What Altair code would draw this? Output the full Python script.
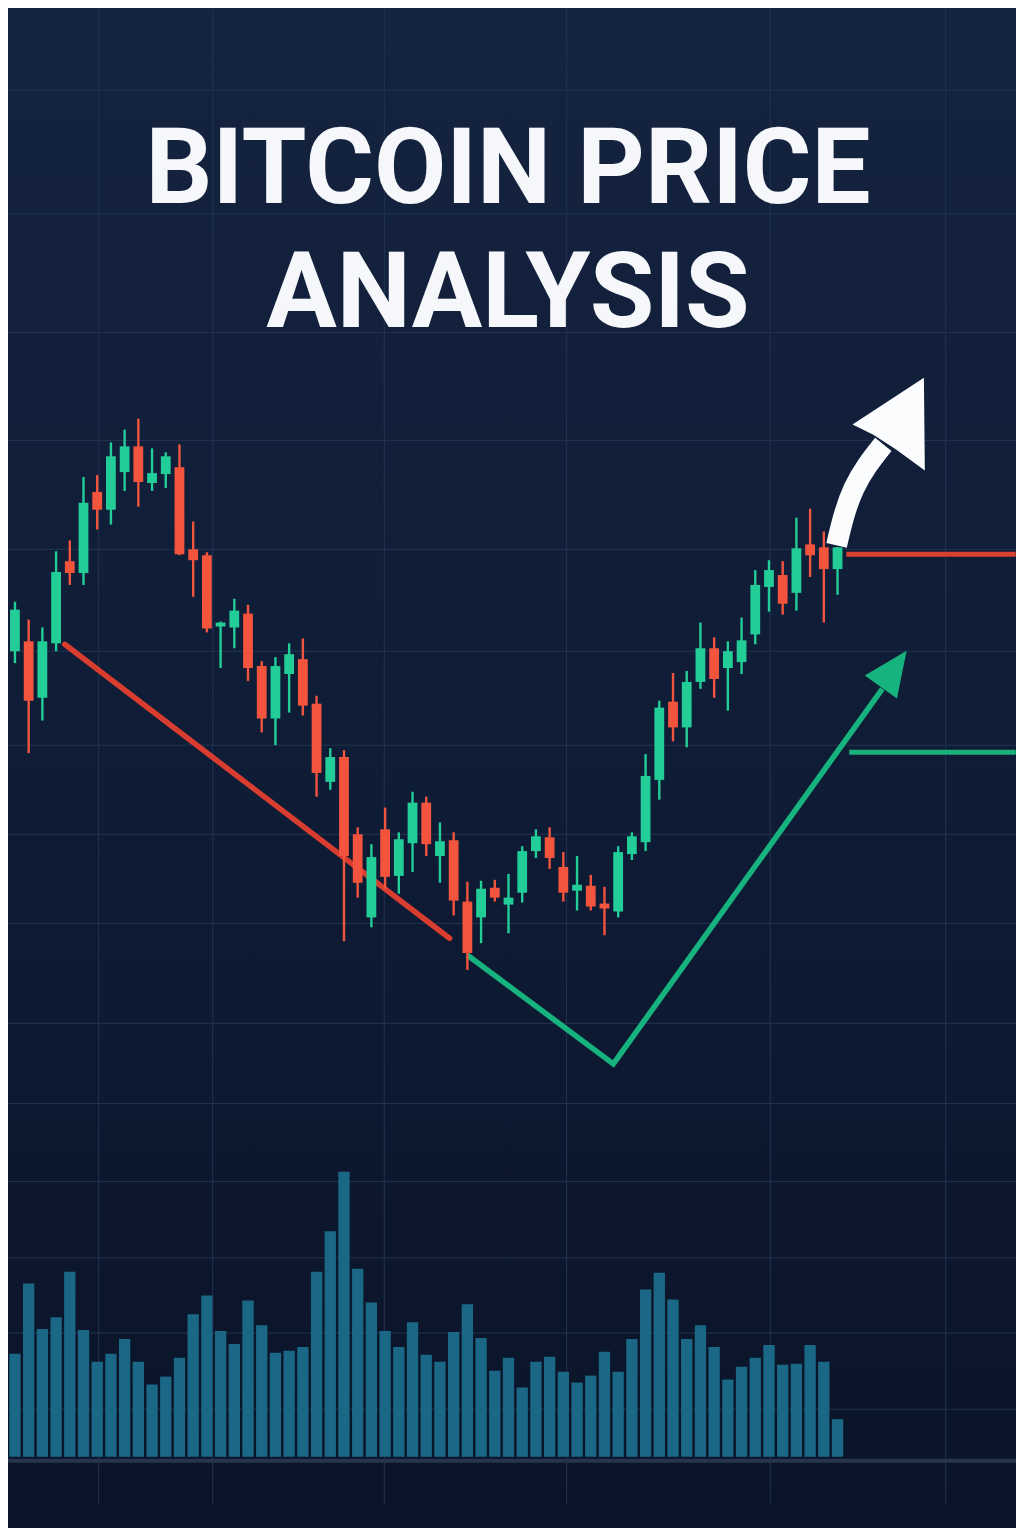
import altair as alt
import pandas as pd

W, H = 1008, 1520

# ---------------- data ----------------
opens = [42500, 43000, 40150, 42900, 47050, 46450, 50550, 49650, 51550, 52850,
         51000, 51450, 51800, 47650, 47350, 43750, 43700, 44400, 41750, 39100,
         41350, 42100, 39850, 35900, 37150, 33250, 29050, 33500, 31150, 32800,
         34850, 32150, 32950, 29850, 29050, 30550, 29700, 30300, 32400, 33100,
         31600, 30400, 30650, 29750, 29350, 32250, 32850, 36000, 39950, 38650,
         40950, 42650, 41650, 41950, 43350, 45750, 46350, 45450, 47900, 47750,
         46650]
closes = [44600, 40000, 43000, 46500, 46450, 50000, 49650, 52350, 52850, 51050,
          51500, 52350, 47400, 47100, 43650, 43950, 44550, 41650, 39100, 41750,
          42350, 39750, 36350, 37150, 32150, 30800, 32100, 31100, 33000, 34850,
          32750, 32900, 29900, 27250, 30500, 30050, 30050, 32400, 33150, 32050,
          30300, 30700, 29600, 29500, 32350, 33150, 36200, 39650, 38650, 40950,
          42650, 41100, 42500, 43050, 45850, 46600, 44900, 47700, 47350, 46650,
          47750]
highs = [45000, 44100, 43700, 47550, 48100, 51300, 51400, 53050, 53700, 54250,
         52750, 52550, 52950, 49050, 47500, 44000, 45150, 44850, 42000, 42200,
         42900, 43150, 40250, 37600, 37500, 33600, 32750, 34600, 33350, 35400,
         35150, 33850, 33350, 30850, 30900, 30950, 31250, 32650, 33500, 33600,
         32350, 32150, 31200, 30600, 32650, 33350, 37300, 40000, 41400, 41500,
         43950, 43200, 43000, 44200, 46600, 47100, 47050, 49250, 49700, 48550,
         47750]
lows = [41900, 37350, 39000, 42500, 45850, 45850, 48650, 48900, 50600, 49800,
        50600, 50750, 47350, 45250, 43450, 41650, 42650, 41000, 38400, 37750,
        39400, 39250, 35150, 35500, 27850, 30050, 28550, 30500, 30250, 31350,
        32150, 30800, 29150, 26400, 27750, 29850, 28250, 29800, 32050, 31500,
        29850, 29400, 29400, 28150, 29050, 31950, 32400, 35000, 37950, 37650,
        40600, 40150, 39500, 41350, 42850, 44500, 44350, 44550, 46250, 43950,
        45350]
volume = [104, 175, 129, 141, 187, 128, 96, 104, 119, 96,
          73, 81, 100, 144, 163, 127, 114, 158, 133, 105,
          107, 111, 187, 228, 288, 190, 156, 127, 111, 136,
          103, 96, 126, 154, 120, 87, 100, 70, 96, 101,
          86, 75, 82, 106, 86, 119, 169, 186, 159, 119,
          133, 111, 78, 91, 100, 113, 93, 94, 113, 96,
          38]

grid_x = [6.11, 14.43, 26.94, 40.24, 55.09, 67.89]
grid_price = [70850, 64600, 58600, 53150, 47650, 42500, 37750, 33250, 28750, 23700, 19650]
grid_vol = [278, 201, 125, 48]

down_x = [3.63, 31.7]
down_p = [42850, 28000]
v_x = [32.99, 43.65, 63.27]
v_p = [27150, 21650, 40600]
green_head_x = [64.10]
green_head_p = [41610]
red_level_x = [60.64, 73]
red_level_p = [47400, 47400]
green_level_x = [60.85, 73]
green_level_p = [37400, 37400]
white_x = [59.93, 60.43, 61.14, 62.13, 63.34]
white_p = [47850, 49350, 50750, 51900, 52950]
white_head_x = [63.73]
white_head_p = [53975]

title_lines = ["BITCOIN PRICE", "ANALYSIS"]

# ---------------- tables ----------------
n = len(opens)
candles = pd.DataFrame({
    "i": list(range(n)), "open": opens, "close": closes,
    "high": highs, "low": lows, "volume": volume,
})
candles["dir"] = ["up" if c >= o else "down" for o, c in zip(opens, closes)]

xs = alt.Scale(domain=[-0.1422, 72.653], nice=False, zero=False)
ys = alt.Scale(domain=[-1800, 75000], nice=False, zero=False)
vs = alt.Scale(domain=[-72, 1464], nice=False, zero=False)

GREEN = "#22cd98"
RED = "#f2543d"
col = alt.Color("dir:N", scale=alt.Scale(domain=["up", "down"], range=[GREEN, RED]), legend=None)

bg = alt.Chart(pd.DataFrame({"a": [0]})).mark_rect(
    color=alt.LinearGradient(
        gradient="linear",
        stops=[alt.GradientStop(color="#14233f", offset=0),
               alt.GradientStop(color="#0f1c36", offset=0.5),
               alt.GradientStop(color="#0a1428", offset=1)],
        x1=0, x2=0, y1=0, y2=1),
).encode(x=alt.value(0), x2=alt.value(W), y=alt.value(0), y2=alt.value(H))

GRID = "#23334f"
vgrid = alt.Chart(pd.DataFrame({"g": grid_x})).mark_rule(color=GRID, strokeWidth=1).encode(
    x=alt.X("g:Q", scale=xs, axis=None),
    y=alt.YDatum(75000, scale=ys, axis=None),
    y2=alt.Y2Datum(-600),
)
hgrid = alt.Chart(pd.DataFrame({"g": grid_price})).mark_rule(color=GRID, strokeWidth=1).encode(
    y=alt.Y("g:Q", scale=ys, axis=None),
)
hgrid_v = alt.Chart(pd.DataFrame({"g": grid_vol})).mark_rule(color=GRID, strokeWidth=1).encode(
    y=alt.Y("g:Q", scale=vs, axis=None),
)

vol = alt.Chart(candles).mark_bar(color="#1b6886", size=11.3).encode(
    x=alt.X("i:Q", scale=xs, axis=None),
    y=alt.Y("volume:Q", scale=vs, axis=None),
    y2=alt.Y2Datum(0),
)
baseline = alt.Chart(pd.DataFrame({"g": [-4]})).mark_rule(color="#27344b", strokeWidth=4).encode(
    y=alt.Y("g:Q", scale=vs, axis=None),
)

down_line = alt.Chart(pd.DataFrame({"x": down_x, "p": down_p})).mark_line(
    color="#d83d2f", strokeWidth=5.5, strokeCap="round").encode(
    x=alt.X("x:Q", scale=xs, axis=None), y=alt.Y("p:Q", scale=ys, axis=None))

v_line = alt.Chart(pd.DataFrame({"x": v_x, "p": v_p, "o": [0, 1, 2]})).mark_line(
    color="#17b37e", strokeWidth=5.5, strokeJoin="miter").encode(
    x=alt.X("x:Q", scale=xs, axis=None), y=alt.Y("p:Q", scale=ys, axis=None), order="o:Q")

v_head = alt.Chart(pd.DataFrame({"x": green_head_x, "p": green_head_p})).mark_point(
    shape="M0,-1L0.89,1L-0.89,1Z", filled=True, opacity=1, color="#17b37e",
    size=1970, angle=35.5).encode(
    x=alt.X("x:Q", scale=xs, axis=None), y=alt.Y("p:Q", scale=ys, axis=None))

wicks = alt.Chart(candles).mark_rule(strokeWidth=2.4).encode(
    x=alt.X("i:Q", scale=xs, axis=None),
    y=alt.Y("low:Q", scale=ys, axis=None),
    y2="high:Q",
    color=col,
)
bodies = alt.Chart(candles).mark_bar(size=9.8).encode(
    x=alt.X("i:Q", scale=xs, axis=None),
    y=alt.Y("open:Q", scale=ys, axis=None),
    y2="close:Q",
    color=col,
)

red_level = alt.Chart(pd.DataFrame({"x": red_level_x, "p": red_level_p})).mark_line(
    color="#d8412f", strokeWidth=5).encode(
    x=alt.X("x:Q", scale=xs, axis=None), y=alt.Y("p:Q", scale=ys, axis=None))
green_level = alt.Chart(pd.DataFrame({"x": green_level_x, "p": green_level_p})).mark_line(
    color="#19b07c", strokeWidth=5).encode(
    x=alt.X("x:Q", scale=xs, axis=None), y=alt.Y("p:Q", scale=ys, axis=None))

white_shaft = alt.Chart(pd.DataFrame({"x": white_x, "p": white_p})).mark_line(
    color="#fbfcfd", strokeWidth=21, interpolate="basis").encode(
    x=alt.X("x:Q", scale=xs, axis=None), y=alt.Y("p:Q", scale=ys, axis=None))
white_head = alt.Chart(pd.DataFrame({"x": white_head_x, "p": white_head_p})).mark_point(
    shape="M0.76,-1L0.78,1L0.16,0.55L-0.33,0.23L-0.78,0.01Z", filled=True, opacity=1,
    color="#fbfcfd", size=8600).encode(
    x=alt.X("x:Q", scale=xs, axis=None), y=alt.Y("p:Q", scale=ys, axis=None))

title = alt.Chart(pd.DataFrame({"a": [0]})).mark_text(
    font="Roboto", fontWeight="bold", fontSize=105, color="#f5f7fa",
    align="center", baseline="alphabetic", lineHeight=124).encode(
    text=alt.value(title_lines), x=alt.value(500), y=alt.value(195))

chart = alt.layer(
    bg, vgrid, hgrid, hgrid_v, vol, baseline, down_line, v_line, v_head,
    wicks, bodies, red_level, green_level, white_shaft, white_head, title,
).resolve_scale(y="independent").properties(
    width=W, height=H, padding=0,
    autosize=alt.AutoSizeParams(type="none"),
    background="#0d1a33",
).configure_view(stroke=None)

chart.save("out.html", embed_options={"renderer": "svg", "actions": False})
